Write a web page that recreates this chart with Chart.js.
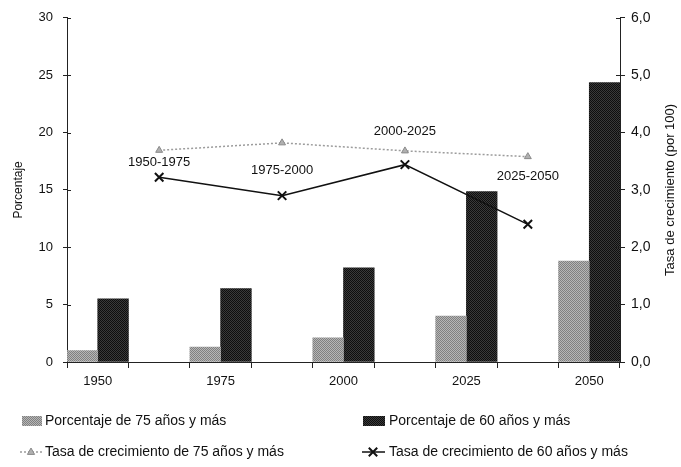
<!DOCTYPE html>
<html>
<head>
<meta charset="utf-8">
<script src="https://cdn.jsdelivr.net/npm/chart.js@4.4.1/dist/chart.umd.min.js"></script>
<style>
  html, body { margin: 0; padding: 0; background: #fff; }
  #wrap { width: 681px; height: 467px; }
</style>
</head>
<body>
<div id="wrap"><canvas id="agingChart"></canvas></div>
<script>
// Years with bars and the periods between them (growth rates)
const years = ['1950', '1975', '2000', '2025', '2050'];
const periods = ['1950-1975', '1975-2000', '2000-2025', '2025-2050'];

// Percentages (left axis)
const pct75 = [1.0, 1.3, 2.1, 4.0, 8.8];
const pct60 = [5.5, 6.4, 8.2, 14.85, 24.35];

// Growth rates per 100 (right axis)
const rate75 = [3.69, 3.82, 3.68, 3.58];
const rate60 = [3.22, 2.90, 3.44, 2.40];

const leftTicks = [0, 5, 10, 15, 20, 25, 30];
const rightTicks = [0, 1, 2, 3, 4, 5, 6];

const legendNames = [
    'Porcentaje de 75 años y más',
    'Porcentaje de 60 años y más',
    'Tasa de crecimiento de 75 años y más',
    'Tasa de crecimiento de 60 años y más'
];

// 9 slots: year, period, year, period, ...
const slots = [];
for (let i = 0; i < years.length; i++) {
    slots.push(years[i]);
    if (i < periods.length) slots.push('');
}
const onYears = arr => slots.map((s, i) => i % 2 === 0 ? arr[i / 2] : null);
const onPeriods = arr => slots.map((s, i) => i % 2 === 1 ? arr[(i - 1) / 2] : null);

// halftone-ish fill like the printed original
function stipple(a, b) {
    const c = document.createElement('canvas');
    c.width = 2; c.height = 2;
    const g = c.getContext('2d');
    g.fillStyle = a; g.fillRect(0, 0, 2, 2);
    g.fillStyle = b; g.fillRect(1, 0, 1, 1); g.fillRect(0, 1, 1, 1);
    return g.createPattern(c, 'repeat');
}
const lightFill = stipple('#808080', '#b6b6b6');
const darkFill = stipple('#0e0e0e', '#3a3a3a');

const FONT = "'Liberation Sans', Arial, Helvetica, sans-serif";
Chart.defaults.font.family = FONT;
Chart.defaults.font.size = 13;
Chart.defaults.color = '#111';

function drawTriangle(ctx, x, y, r) {
    ctx.beginPath();
    ctx.moveTo(x, y - r);
    ctx.lineTo(x + r * 0.9, y + r * 0.6);
    ctx.lineTo(x - r * 0.9, y + r * 0.6);
    ctx.closePath();
    ctx.fill();
    ctx.stroke();
}
function drawCross(ctx, x, y, r) {
    ctx.beginPath();
    ctx.moveTo(x - r * 0.7, y - r * 0.7); ctx.lineTo(x + r * 0.7, y + r * 0.7);
    ctx.moveTo(x + r * 0.7, y - r * 0.7); ctx.lineTo(x - r * 0.7, y + r * 0.7);
    ctx.stroke();
}

// period labels, inner tick marks, right axis title and the 2x2 legend
const extras = {
    id: 'extras',
    afterDraw(chart) {
        const ctx = chart.ctx;
        const area = chart.chartArea;
        const meta = chart.getDatasetMeta(3);
        const lift = [15, 25, 33, 48];
        ctx.save();

        // tick marks cross the value axes
        ctx.strokeStyle = '#222';
        ctx.lineWidth = 1;
        ctx.beginPath();
        leftTicks.forEach(v => {
            const y = Math.round(chart.scales.y.getPixelForValue(v)) + 0.5;
            ctx.moveTo(area.left, y); ctx.lineTo(area.left + 4, y);
        });
        rightTicks.forEach(v => {
            const y = Math.round(chart.scales.y1.getPixelForValue(v)) + 0.5;
            ctx.moveTo(area.right, y); ctx.lineTo(area.right - 4, y);
        });
        ctx.stroke();

        ctx.fillStyle = '#111';
        ctx.font = '13px ' + FONT;
        ctx.textAlign = 'center';
        ctx.textBaseline = 'middle';
        let k = 0;
        meta.data.forEach((pt, i) => {
            if (i % 2 === 1) {
                ctx.fillText(periods[k], pt.x, pt.y - lift[k]);
                k++;
            }
        });

        // right axis title reads bottom to top
        ctx.save();
        ctx.translate(670, (area.top + area.bottom) / 2);
        ctx.rotate(-Math.PI / 2);
        ctx.fillText('Tasa de crecimiento (por 100)', 0, 0);
        ctx.restore();

        // legend
        ctx.font = '14px ' + FONT;
        ctx.textAlign = 'left';
        const row1 = 421, row2 = 452;
        const ds = chart.data.datasets;
        ctx.fillStyle = ds[0].backgroundColor;
        ctx.fillRect(22, row1 - 5, 20, 10);
        ctx.fillStyle = ds[1].backgroundColor;
        ctx.fillRect(363, row1 - 5, 22, 10);

        ctx.lineWidth = ds[2].borderWidth;
        ctx.strokeStyle = ds[2].borderColor;
        ctx.setLineDash(ds[2].borderDash);
        ctx.beginPath(); ctx.moveTo(20, row2); ctx.lineTo(42, row2); ctx.stroke();
        ctx.setLineDash([]);
        ctx.fillStyle = ds[2].pointBackgroundColor;
        ctx.strokeStyle = ds[2].pointBorderColor;
        ctx.lineWidth = 1;
        drawTriangle(ctx, 31, row2, 4);

        ctx.strokeStyle = ds[3].borderColor;
        ctx.lineWidth = ds[3].borderWidth;
        ctx.beginPath(); ctx.moveTo(362, row2); ctx.lineTo(385, row2); ctx.stroke();
        ctx.lineWidth = ds[3].pointBorderWidth;
        drawCross(ctx, 373, row2, 6);

        ctx.fillStyle = '#111';
        ctx.fillText(legendNames[0], 45, row1);
        ctx.fillText(legendNames[1], 389, row1);
        ctx.fillText(legendNames[2], 45, row2);
        ctx.fillText(legendNames[3], 389, row2);
        ctx.restore();
    }
};

const ctx = document.getElementById('agingChart').getContext('2d');
const agingChart = new Chart(ctx, {
    type: 'bar',
    data: {
        labels: slots,
        datasets: [{
            label: legendNames[0],
            data: onYears(pct75),
            backgroundColor: lightFill,
            categoryPercentage: 1,
            barPercentage: 1,
            yAxisID: 'y',
            order: 2
        }, {
            label: legendNames[1],
            data: onYears(pct60),
            backgroundColor: darkFill,
            categoryPercentage: 1,
            barPercentage: 1,
            yAxisID: 'y',
            order: 2
        }, {
            type: 'line',
            label: legendNames[2],
            data: onPeriods(rate75),
            spanGaps: true,
            borderColor: '#9c9c9c',
            borderWidth: 1.5,
            borderDash: [2, 2],
            pointStyle: 'triangle',
            pointRadius: 4,
            pointBackgroundColor: '#b0b0b0',
            pointBorderColor: '#8a8a8a',
            pointBorderWidth: 1,
            yAxisID: 'y1',
            order: 1
        }, {
            type: 'line',
            label: legendNames[3],
            data: onPeriods(rate60),
            spanGaps: true,
            borderColor: '#111',
            borderWidth: 1.5,
            pointStyle: 'crossRot',
            pointRadius: 6,
            pointBorderColor: '#111',
            pointBorderWidth: 2,
            yAxisID: 'y1',
            order: 0
        }]
    },
    options: {
        responsive: true,
        maintainAspectRatio: false,
        animation: false,
        layout: { padding: { top: 17 } },
        plugins: {
            legend: { display: false },
            tooltip: { enabled: false }
        },
        scales: {
            x: {
                offset: true,
                grid: { offset: true, drawOnChartArea: false, tickLength: 6, color: '#222' },
                border: { color: '#222', width: 1 },
                ticks: { autoSkip: false, maxRotation: 0, padding: 6 },
                afterFit: s => { s.height = 105; }
            },
            y: {
                position: 'left',
                min: 0,
                max: 30,
                afterBuildTicks: s => { s.ticks = leftTicks.map(v => ({ value: v })); },
                grid: { drawOnChartArea: false, tickLength: 4, color: '#222' },
                border: { color: '#222', width: 1 },
                ticks: { padding: 10 },
                title: { display: true, text: 'Porcentaje', font: { size: 12 }, padding: { top: 11, bottom: 0 } },
                afterFit: s => { s.width = 67; }
            },
            y1: {
                position: 'right',
                min: 0,
                max: 6,
                afterBuildTicks: s => { s.ticks = rightTicks.map(v => ({ value: v })); },
                grid: { drawOnChartArea: false, tickLength: 5, color: '#222' },
                border: { color: '#222', width: 1 },
                ticks: { padding: 6, font: { size: 14 }, callback: v => v.toFixed(1).replace('.', ',') },
                afterFit: s => { s.width = 61; }
            }
        }
    },
    plugins: [extras]
});
</script>
</body>
</html>
